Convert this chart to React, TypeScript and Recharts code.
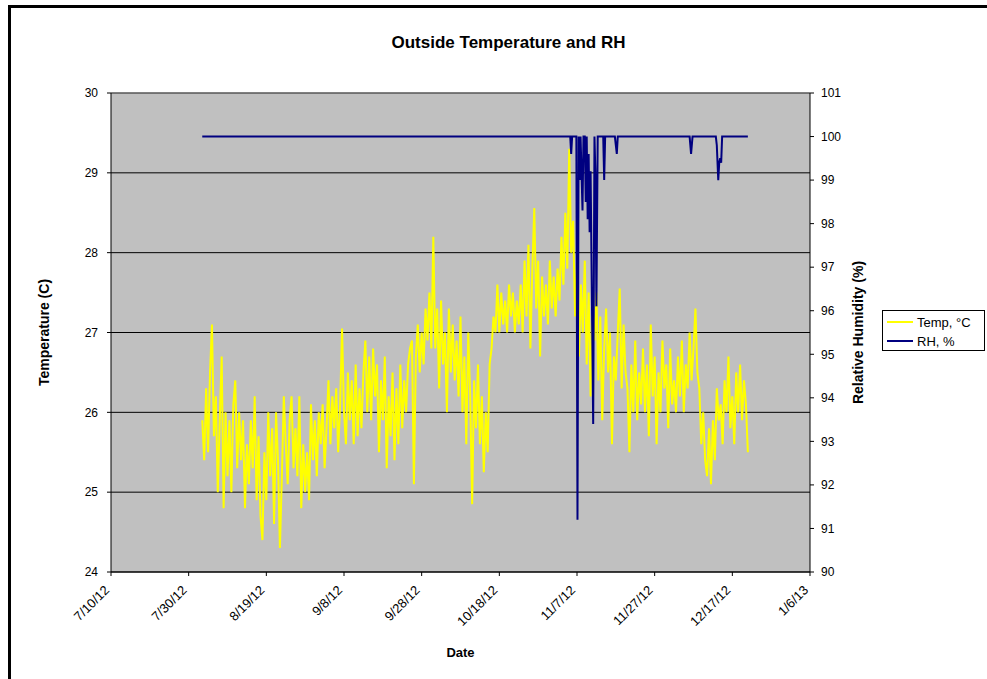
import {
  CartesianGrid,
  Label,
  Line,
  LineChart,
  ReferenceLine,
  XAxis,
  YAxis,
} from "recharts";

// readings every 12 hours from 8/2/12 12:00
const tempStart = "2012-08-02 12:00";
const tempStepHours = 12;
const tempReadings = [
  25.9, 25.4, 26.3, 25.5, 26.5, 27.1, 25.7,
  26.2, 25.0, 25.9, 26.7, 24.8, 26.0, 25.2,
  25.9, 25.0, 26.1, 26.4, 25.3, 26.0, 25.4,
  25.9, 24.8, 25.6, 25.1, 25.9,
  25.3, 26.2, 24.9, 25.7, 24.7, 24.4, 25.5, 24.9,
  26.0, 25.2, 25.8, 24.6, 26.0, 25.4, 24.3, 25.2,
  26.2, 25.6, 25.1, 25.9, 26.2, 25.3, 25.8, 25.2,
  26.2, 24.8, 25.6, 25.0, 25.5,
  24.9, 26.1, 25.4, 25.9, 25.2, 26.0, 25.6, 26.1, 25.3, 25.8,
  26.4, 25.6, 26.2, 25.8, 26.3, 25.5, 26.1,
  27.05,
  26.0, 25.6, 26.5, 25.9, 26.4, 25.6, 26.6, 25.7, 26.3, 25.8, 26.5,
  26.9, 26.0, 26.7, 25.9, 26.8, 26.2,
  26.6, 25.5, 26.4, 25.9, 26.7, 25.3, 26.2, 25.7, 26.5, 25.4, 26.3, 25.6, 26.6,
  25.8, 26.4, 26.0, 26.6, 26.8,
  26.9, 25.1,
  26.7, 27.1, 26.5, 27.0, 26.6, 27.3, 26.9, 27.5, 26.8, 28.2,
  26.8, 27.3, 26.3, 27.4, 26.6, 27.0, 26.0, 27.3, 26.5, 27.1, 26.4, 26.9, 26.2, 27.2,
  26.0, 26.7, 25.6, 27.0, 26.2, 24.85, 26.4, 25.8, 26.6,
  25.6, 26.2, 25.25, 26.0, 25.5, 26.6, 26.8,
  27.2, 27.0, 27.6, 27.0, 27.5, 27.1, 27.4, 27.0, 27.6, 27.2, 27.5, 27.0, 27.4, 27.1, 27.6,
  27.0, 27.9, 27.2, 28.1, 26.8, 27.8, 28.56, 27.3, 27.9, 26.7, 27.7, 27.2,
  27.6, 27.1, 27.9, 27.3, 27.7, 27.2, 27.8, 27.4, 28.2, 27.6,
  28.5, 27.8, 29.3, 28.0, 28.4,
  27.2, 27.9, 26.7, 27.6, 27.0,
  27.9, 26.6, 27.5, 26.2, 27.3,
  26.9, 27.5, 26.4, 27.2, 25.9, 26.8, 27.3, 26.5, 27.0, 25.6, 26.7, 26.4, 27.0,
  27.55, 26.3, 27.1, 26.5,
  26.3, 25.5, 26.6, 26.0, 26.9, 25.9, 26.5, 26.1, 26.8, 26.0,
  26.6, 25.7, 27.1, 26.2, 26.7, 25.6, 26.5, 26.0, 26.9, 26.3, 26.6, 25.8, 26.8, 26.1, 26.4, 26.0,
  26.7, 26.2, 26.9, 26.0, 26.6, 26.3, 27.0, 26.4, 26.8, 27.3, 26.5,
  26.3, 25.6, 26.0, 25.4, 25.2, 25.8, 25.1, 25.9, 25.4, 26.3,
  25.9, 26.1, 25.6, 26.4, 26.0, 26.7, 25.8, 26.2, 25.6, 26.5, 26.0, 26.6, 25.9, 26.4, 26.1, 25.5,
];

const rhTimes = [
  "2012-08-02 12:00", "2012-11-05 06:00", "2012-11-05 12:00", "2012-11-05 18:00",
  "2012-11-06 20:00", "2012-11-07 03:00", "2012-11-07 10:00", "2012-11-07 18:00",
  "2012-11-07 22:00", "2012-11-08 10:00", "2012-11-08 16:00", "2012-11-09 00:00",
  "2012-11-09 06:00", "2012-11-09 12:00", "2012-11-09 18:00", "2012-11-10 00:00",
  "2012-11-10 06:00", "2012-11-10 12:00", "2012-11-11 04:00", "2012-11-11 12:00",
  "2012-11-11 18:00", "2012-11-12 00:00", "2012-11-12 08:00", "2012-11-13 18:00",
  "2012-11-14 00:00", "2012-11-14 06:00", "2012-11-16 18:00", "2012-11-17 06:00",
  "2012-11-17 12:00", "2012-12-06 00:00", "2012-12-06 09:00", "2012-12-06 18:00",
  "2012-12-12 18:00", "2012-12-13 00:00", "2012-12-13 09:00", "2012-12-13 15:00",
  "2012-12-13 21:00", "2012-12-14 03:00", "2012-12-14 09:00", "2012-12-21 00:00",
];
const rhValues = [
  100, 100, 99.6, 100,
  100, 91.2, 100, 99.0,
  100, 98.3, 100, 100,
  98.5, 100, 98.1, 99.6,
  97.8, 99.2, 93.4, 100,
  99.1, 96.1, 100, 100,
  99.0, 100, 100, 99.6,
  100, 100, 99.6, 100,
  100, 99.8, 99.0, 99.4,
  99.5, 99.4, 100, 100,
];

const dateTicks = [
  "2012-07-10", "2012-07-30", "2012-08-19", "2012-09-08", "2012-09-28",
  "2012-10-18", "2012-11-07", "2012-11-27", "2012-12-17", "2013-01-06",
];
const tempTicks = [24, 25, 26, 27, 28, 29, 30];
const rhTicks = [90, 91, 92, 93, 94, 95, 96, 97, 98, 99, 100, 101];

const series = [
  { key: "temp", name: "Temp, °C", color: "#ffff00" },
  { key: "rh", name: "RH, %", color: "#000080" },
];

const toMs = (s: string) => new Date(s.replace(" ", "T") + (s.length > 10 ? ":00Z" : "T00:00:00Z")).getTime();
const HOUR = 3600 * 1000;

const tempData = tempReadings.map((v, i) => ({
  t: toMs(tempStart) + i * tempStepHours * HOUR,
  temp: v,
}));
const rhData = rhTimes.map((s, i) => ({ t: toMs(s), rh: rhValues[i] }));
const xTicks = dateTicks.map(toMs);

const formatDate = (ms: number) => {
  const d = new Date(ms);
  return `${d.getUTCMonth() + 1}/${d.getUTCDate()}/${d.getUTCFullYear() % 100}`;
};

const FONT = '"Liberation Sans", Arial, sans-serif';

const DateTick = ({ x, y, payload }: any) => {
  const ax = x - 1;
  const ay = y + 13;
  return (
    <text
      x={ax}
      y={ay}
      transform={`rotate(-45 ${ax} ${ay})`}
      textAnchor="end"
      fontSize={13}
      fill="#000"
    >
      {formatDate(payload.value)}
    </text>
  );
};

const sideTitle = (text: string, dx: number) => (props: any) => {
  const { x, y, height } = props.viewBox;
  const cx = x + dx;
  const cy = y + height / 2;
  return (
    <text
      x={cx}
      y={cy}
      transform={`rotate(-90 ${cx} ${cy})`}
      textAnchor="middle"
      dominantBaseline="central"
      fontSize={14}
      fontWeight="bold"
      fill="#000"
    >
      {text}
    </text>
  );
};

const bottomTitle = (props: any) => {
  const { x, y, width } = props.viewBox;
  return (
    <text
      x={x + width / 2}
      y={y + 80}
      textAnchor="middle"
      dominantBaseline="central"
      fontSize={13}
      fontWeight="bold"
      fill="#000"
    >
      Date
    </text>
  );
};

export default function App() {
  return (
    <div
      style={{
        position: "fixed",
        left: 0,
        top: 0,
        width: 987,
        height: 679,
        overflow: "hidden",
        background: "#fff",
        fontFamily: FONT,
      }}
    >
      <div
        style={{
          position: "absolute",
          left: 8,
          top: 5,
          width: 1000,
          height: 700,
          border: "3px solid #000",
          boxSizing: "border-box",
        }}
      />
      <div
        style={{
          position: "absolute",
          left: 0,
          top: 33,
          width: 1017,
          textAlign: "center",
          fontSize: 17,
          fontWeight: "bold",
        }}
      >
        Outside Temperature and RH
      </div>
      <div style={{ position: "absolute", left: 0, top: 0 }}>
        <LineChart width={987} height={679} margin={{ top: 93, right: 117, left: 61, bottom: 27 }}>
          <CartesianGrid
            yAxisId="left"
            vertical={false}
            horizontalValues={tempTicks}
            stroke="#000"
            strokeOpacity={1}
            fill="#c0c0c0"
            fillOpacity={1}
          />
          <XAxis
            dataKey="t"
            type="number"
            domain={[xTicks[0], xTicks[xTicks.length - 1]]}
            ticks={xTicks}
            interval={0}
            tick={<DateTick />}
            tickSize={4}
            stroke="#000"
            height={80}
            allowDataOverflow
          >
            <Label content={bottomTitle} />
          </XAxis>
          <YAxis
            yAxisId="left"
            domain={[24, 30]}
            ticks={tempTicks}
            interval={0}
            width={50}
            tickSize={4}
            tickMargin={9}
            stroke="#000"
            tick={{ fontSize: 12, fill: "#000" }}
          >
            <Label content={sideTitle("Temperature (C)", -17)} />
          </YAxis>
          <YAxis
            yAxisId="right"
            orientation="right"
            domain={[90, 101]}
            ticks={rhTicks}
            interval={0}
            width={60}
            tickSize={4}
            tickMargin={7}
            stroke="#000"
            tick={{ fontSize: 12, fill: "#000" }}
          >
            <Label content={sideTitle("Relative Humidity (%)", 48)} />
          </YAxis>
          <ReferenceLine yAxisId="left" y={30} stroke="#808080" strokeWidth={1} />
          <Line
            data={tempData}
            yAxisId="left"
            dataKey="temp"
            name={series[0].name}
            stroke={series[0].color}
            strokeWidth={2}
            dot={false}
            isAnimationActive={false}
          />
          <Line
            data={rhData}
            yAxisId="right"
            dataKey="rh"
            name={series[1].name}
            stroke={series[1].color}
            strokeWidth={2}
            dot={false}
            isAnimationActive={false}
          />
        </LineChart>
      </div>
      <div
        style={{
          position: "absolute",
          left: 882,
          top: 310,
          width: 103,
          height: 41,
          border: "1px solid #000",
          boxSizing: "border-box",
          background: "#fff",
          fontSize: 13,
        }}
      >
        {series.map((s, i) => (
          <div
            key={s.key}
            style={{
              position: "absolute",
              left: 4,
              top: 2 + i * 19,
              height: 18,
              display: "flex",
              alignItems: "center",
              whiteSpace: "nowrap",
            }}
          >
            <span
              style={{ display: "inline-block", width: 26, height: 2, background: s.color, marginRight: 4 }}
            />
            {s.name}
          </div>
        ))}
      </div>
    </div>
  );
}
